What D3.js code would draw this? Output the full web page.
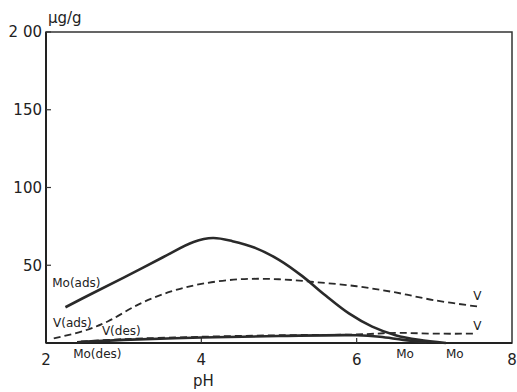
<!DOCTYPE html>
<html>
<head>
  <meta charset="utf-8">
  <title>Adsorption / desorption of Mo and V vs pH</title>
  <style>
    body { margin: 0; background: #fff; }
    svg { display: block; }
    text { font-family: "DejaVu Sans", sans-serif; fill: #222; }
    .tick-label { font-size: 15px; }
    .curve-label { font-size: 12px; }
  </style>
  <script src="https://d3js.org/d3.v7.min.js"></script>
</head>
<body>
<svg width="517" height="392"></svg>
<script>
// pH values and readings (ug/g)
var moAdsPH = [2.25, 2.6, 3.0, 3.5, 3.9, 4.15, 4.4, 4.7, 5.0, 5.3, 5.6, 5.9, 6.2, 6.5, 6.8, 7.15];
var moAds   = [23, 32, 42, 55, 65, 67.5, 65.5, 61, 53.5, 43, 30.5, 19, 10.5, 5, 2, 0];

var vAdsPH = [2.1, 2.5, 2.8, 3.2, 3.6, 4.0, 4.5, 5.0, 5.5, 6.0, 6.5, 7.0, 7.55];
var vAds   = [3, 8, 14, 25, 33, 38, 41, 41, 39, 36.5, 32.5, 27.5, 23.5];

var vDesPH = [2.45, 3.0, 4.0, 5.0, 6.0, 6.5, 7.0, 7.55];
var vDes   = [1, 2.5, 4, 5, 5.5, 6.5, 6, 6];

var moDesPH = [2.4, 3.0, 4.0, 5.0, 6.0, 6.3, 6.6, 6.9];
var moDes   = [0.5, 2, 3.5, 4.5, 5, 4, 2, 0.5];

var xTicks = [2, 4, 6, 8];
var yTicks = [200, 150, 100, 50];
var yTickLabels = ["2 00", "150", "100", "50"];

// curve labels: text, pH, value
var labels = [
  ["Mo(ads)", 2.08, 36],
  ["V(ads)", 2.09, 10],
  ["V(des)", 2.72, 5],
  ["Mo(des)", 2.35, -9.6],
  ["V", 7.5, 27.6],
  ["V", 7.5, 8.4],
  ["Mo", 6.51, -9.6],
  ["Mo", 7.15, -9.6]
];

var svg = d3.select("svg");

var x = d3.scaleLinear().domain([2, 8]).range([46, 512]);
var y = d3.scaleLinear().domain([0, 200]).range([343, 32]);

// frame
svg.append("rect")
    .attr("x", x(2)).attr("y", y(200))
    .attr("width", x(8) - x(2)).attr("height", y(0) - y(200))
    .attr("fill", "none").attr("stroke", "#333").attr("stroke-width", 1.5);
svg.append("line")
    .attr("x1", x(2)).attr("x2", x(2)).attr("y1", y(200)).attr("y2", y(0))
    .attr("stroke", "#222").attr("stroke-width", 2);
svg.append("line")
    .attr("x1", x(2)).attr("x2", x(8)).attr("y1", y(0)).attr("y2", y(0))
    .attr("stroke", "#222").attr("stroke-width", 2);

// y ticks (inward)
svg.selectAll(".ytick")
  .data(yTicks)
  .enter().append("line")
    .attr("x1", x(2)).attr("x2", x(2) + 5)
    .attr("y1", function(d) { return y(d); })
    .attr("y2", function(d) { return y(d); })
    .attr("stroke", "#333").attr("stroke-width", 1.2);
svg.selectAll(".ylab")
  .data(yTicks)
  .enter().append("text")
    .attr("class", "tick-label")
    .attr("x", x(2) - 4)
    .attr("y", function(d) { return y(d); })
    .attr("dy", "0.35em")
    .attr("text-anchor", "end")
    .text(function(d, i) { return yTickLabels[i]; });

// x ticks (inward, inner ones only)
svg.selectAll(".xtick")
  .data(xTicks.slice(1, 3))
  .enter().append("line")
    .attr("x1", function(d) { return x(d); })
    .attr("x2", function(d) { return x(d); })
    .attr("y1", y(0)).attr("y2", y(0) - 5)
    .attr("stroke", "#333").attr("stroke-width", 1.2);
svg.selectAll(".xlab")
  .data(xTicks)
  .enter().append("text")
    .attr("class", "tick-label")
    .attr("x", function(d) { return x(d); })
    .attr("y", 365)
    .attr("text-anchor", "middle")
    .text(function(d) { return d; });

svg.append("text").attr("class", "tick-label")
    .attr("x", x(4) + 2).attr("y", 386)
    .attr("text-anchor", "middle").text("pH");
svg.append("text").attr("class", "tick-label")
    .attr("x", 48).attr("y", 23).text("µg/g");

// curves
var line = d3.line()
    .x(function(d) { return x(d[0]); })
    .y(function(d) { return y(d[1]); })
    .curve(d3.curveCatmullRom.alpha(0.5));

function series(ph, vals) { return ph.map(function(p, i) { return [p, vals[i]]; }); }

var curves = [
  {pts: series(vDesPH, vDes), dash: "7,4", w: 1.8},
  {pts: series(moDesPH, moDes), dash: null, w: 2.6},
  {pts: series(vAdsPH, vAds), dash: "7,4", w: 1.8},
  {pts: series(moAdsPH, moAds), dash: null, w: 2.6}
];

svg.selectAll(".curve")
  .data(curves)
  .enter().append("path")
    .attr("class", "curve")
    .attr("d", function(d) { return line(d.pts); })
    .attr("fill", "none")
    .attr("stroke", "#2a2a2a")
    .attr("stroke-width", function(d) { return d.w; })
    .attr("stroke-dasharray", function(d) { return d.dash; });

svg.selectAll(".curve-label")
  .data(labels)
  .enter().append("text")
    .attr("class", "curve-label")
    .attr("x", function(d) { return x(d[1]); })
    .attr("y", function(d) { return y(d[2]); })
    .text(function(d) { return d[0]; });
</script>
</body>
</html>
